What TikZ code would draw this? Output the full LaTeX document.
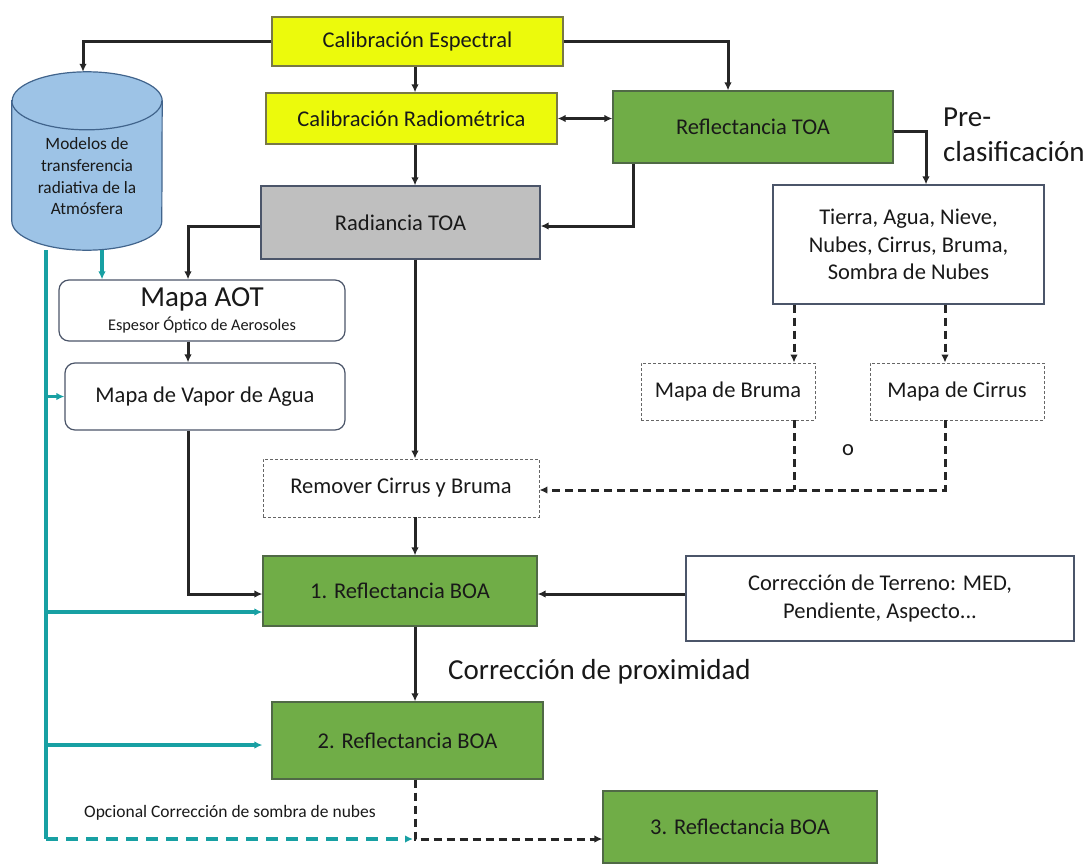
\documentclass[tikz,border=0pt]{standalone}
\usepackage{fontspec}
\setmainfont{Carlito}
\usetikzlibrary{arrows.meta}

\definecolor{amarillo}{RGB}{236,250,12}
\definecolor{olivo}{RGB}{120,120,70}
\definecolor{verde}{RGB}{112,173,71}
\definecolor{verdeosc}{RGB}{80,105,70}
\definecolor{gris}{RGB}{191,191,191}
\definecolor{celeste}{RGB}{157,195,230}
\definecolor{azul}{RGB}{65,100,140}
\definecolor{turquesa}{RGB}{24,160,163}
\definecolor{borde}{RGB}{75,85,105}

\begin{document}
\begin{tikzpicture}[x=1pt,y=-1pt,>={Latex[length=8pt,width=7.5pt]}]
      \tikzstyle{caja}=[rectangle, draw=borde, line width=1.2pt, align=center, inner sep=0pt, text=black!90, font=\fontsize{22.5}{27.5}\selectfont]
      \tikzstyle{calib}=[caja, fill=amarillo, draw=olivo]
      \tikzstyle{refl}=[caja, fill=verde, draw=verdeosc]
      \tikzstyle{mapa}=[caja, rounded corners=10pt]
      \tikzstyle{opcion}=[caja, draw=black!60, line width=0.8pt, dash pattern=on 3pt off 2pt]
      \tikzstyle{cilindro}=[draw=azul, line width=1.2pt, fill=celeste]
      \tikzstyle{connect}=[->, line width=3pt, black!85]
      \tikzstyle{connectd}=[connect, dash pattern=on 8pt off 5pt]
      \tikzstyle{aux}=[->, line width=3.2pt, turquesa]
      \tikzstyle{lbl}=[inner sep=0pt, align=left, text=black!90]

      \useasboundingbox (0,0) rectangle (1089,865);

      % top row
      \node[calib, minimum width=291pt, minimum height=49pt] (calesp) at (417.5,41.5) {Calibración Espectral};
      \node[calib, minimum width=291pt, minimum height=51pt] (calrad) at (411.5,118.5) {Calibración Radiométrica};
      \node[refl, minimum width=280pt, minimum height=72pt] (refltoa) at (753,127) {Reflectancia TOA};
      \node[caja, fill=gris, minimum width=279pt, minimum height=73pt] (radtoa) at (400.5,222.5) {Radiancia TOA};

      % atmosphere models
      \node[minimum width=150pt, minimum height=178pt, inner sep=0pt] (atm) at (87,161) {};
      \draw[cilindro] ([yshift=-29pt]atm.north west) -- ([yshift=29pt]atm.south west)
            arc[start angle=180, end angle=360, x radius=75pt, y radius=29pt]
            -- ([yshift=-29pt]atm.north east)
            arc[start angle=0, end angle=180, x radius=75pt, y radius=29pt] -- cycle;
      \draw[cilindro, fill=none] ([yshift=-29pt]atm.north west)
            arc[start angle=180, end angle=360, x radius=75pt, y radius=29pt];
      \node[lbl, align=center, font=\fontsize{17.3}{21.7}\selectfont] (atmtxt) at (87,176.5) {Modelos de\\transferencia\\radiativa de la\\Atmósfera};

      % maps
      \node[mapa, minimum width=286pt, minimum height=61pt] (aot) at (202,310.5) {\fontsize{29}{30}\selectfont Mapa AOT\\[-3pt]\fontsize{16.3}{18}\selectfont Espesor Óptico de Aerosoles};
      \node[mapa, minimum width=280pt, minimum height=67pt] (vapor) at (205,396.5) {Mapa de Vapor de Agua};
      \node[caja, minimum width=271pt, minimum height=119pt] (clasif) at (908.5,244.5) {Tierra, Agua, Nieve,\\Nubes, Cirrus, Bruma,\\Sombra de Nubes};
      \node[opcion, minimum width=174pt, minimum height=57pt] (bruma) at (728,391.5) {Mapa de Bruma};
      \node[opcion, minimum width=174pt, minimum height=57pt] (cirrus) at (957,391.5) {Mapa de Cirrus};
      \node[opcion, minimum width=276pt, minimum height=58pt] (remover) at (401,488) {Remover Cirrus y Bruma};

      % surface reflectance
      \node[refl, minimum width=274pt, minimum height=70pt] (boa1) at (400,591) {1. Reflectancia BOA};
      \node[caja, minimum width=388pt, minimum height=85pt] (terreno) at (880,598.5) {Corrección de Terreno: MED,\\Pendiente, Aspecto...};
      \node[refl, minimum width=271pt, minimum height=77pt] (boa2) at (407.5,740.5) {2. Reflectancia BOA};
      \node[refl, minimum width=274pt, minimum height=72pt] (boa3) at (740,827) {3. Reflectancia BOA};

      % free labels
      \node[lbl, anchor=west, font=\fontsize{29}{35}\selectfont] (precl) at (943,134.5) {Pre-\\clasificación};
      \node[lbl, font=\fontsize{22.5}{27}\selectfont] (o) at (848,450) {o};
      \node[lbl, anchor=west, font=\fontsize{29}{35}\selectfont] (proxim) at (448,672) {Corrección de proximidad};
      \node[lbl, anchor=west, font=\fontsize{17.5}{21}\selectfont] (sombra) at (84,813) {Opcional Corrección de sombra de nubes};

      \coordinate (spine) at (415,0);
      \coordinate (tbus) at (46,0);
      \coordinate (esq) at (415,839);

      % main chain
      \draw[connect] (calesp.south -| spine) -- (calrad.north -| spine);
      \draw[connect] (calrad.south -| spine) -- (radtoa.north -| spine);
      \draw[connect] (radtoa.south -| spine) -- (remover.north -| spine);
      \draw[connect] (remover.south -| spine) -- (boa1.north -| spine);
      \draw[connect] (boa1.south -| spine) -- (boa2.north -| spine);
      \draw[connect] (calesp.west) -| ([xshift=-4pt]atm.north);
      \draw[connect] (calesp.east) -| ([xshift=-25pt]refltoa.north);
      \draw[connect, <->] (calrad.east) -- (calrad.east -| refltoa.west);
      \draw[connect] ([xshift=-120pt]refltoa.south) |- ([yshift=-3.5pt]radtoa.east);
      \draw[connect] ([yshift=-4pt]refltoa.east) -| ([xshift=17.5pt]clasif.north);
      \draw[connect] ([yshift=-3.5pt]radtoa.west) -| ([xshift=-14pt]aot.north);
      \draw[connect] ([xshift=-14pt]aot.south) -- ([xshift=-14pt]aot.south |- vapor.north);
      \draw[connect] ([xshift=-17pt]vapor.south) |- ([yshift=-3pt]boa1.west);
      \draw[connect] ([yshift=4.5pt]terreno.west) -- ([yshift=4.5pt]terreno.west -| boa1.east);

      % haze and cirrus
      \draw[connectd] ([xshift=66pt]bruma.north |- clasif.south) -- ([xshift=66pt]bruma.north);
      \draw[connectd] ([xshift=-12pt]cirrus.north |- clasif.south) -- ([xshift=-12pt]cirrus.north);
      \draw[connectd, -] ([xshift=66pt]bruma.south) -- ([xshift=66pt]bruma.south |- 0,490);
      \draw[connectd] ([xshift=-12pt]cirrus.south) |- ([yshift=-2pt]remover.east);

      % cloud shadow
      \draw[connectd] (boa2.south -| spine) -- (esq) -- ([yshift=-12pt]boa3.west);

      % radiative transfer models
      \draw[aux] ([xshift=15pt]atm.south) -- ([xshift=15pt]atm.south |- aot.north);
      \draw[line width=3.2pt, turquesa] (tbus |- atm.south) -- (tbus |- esq);
      \draw[aux, dash pattern=on 12pt off 8pt] (tbus |- esq) -- ([xshift=-2pt]esq);
      \draw[aux] (tbus |- vapor.west) -- (vapor.west);
      \draw[aux] (tbus |- 0,612) -- ([yshift=-21pt]boa1.west);
      \draw[aux, shorten >=9pt] (tbus |- 0,745) -- ([yshift=-4.5pt]boa2.west);
\end{tikzpicture}
\end{document}
